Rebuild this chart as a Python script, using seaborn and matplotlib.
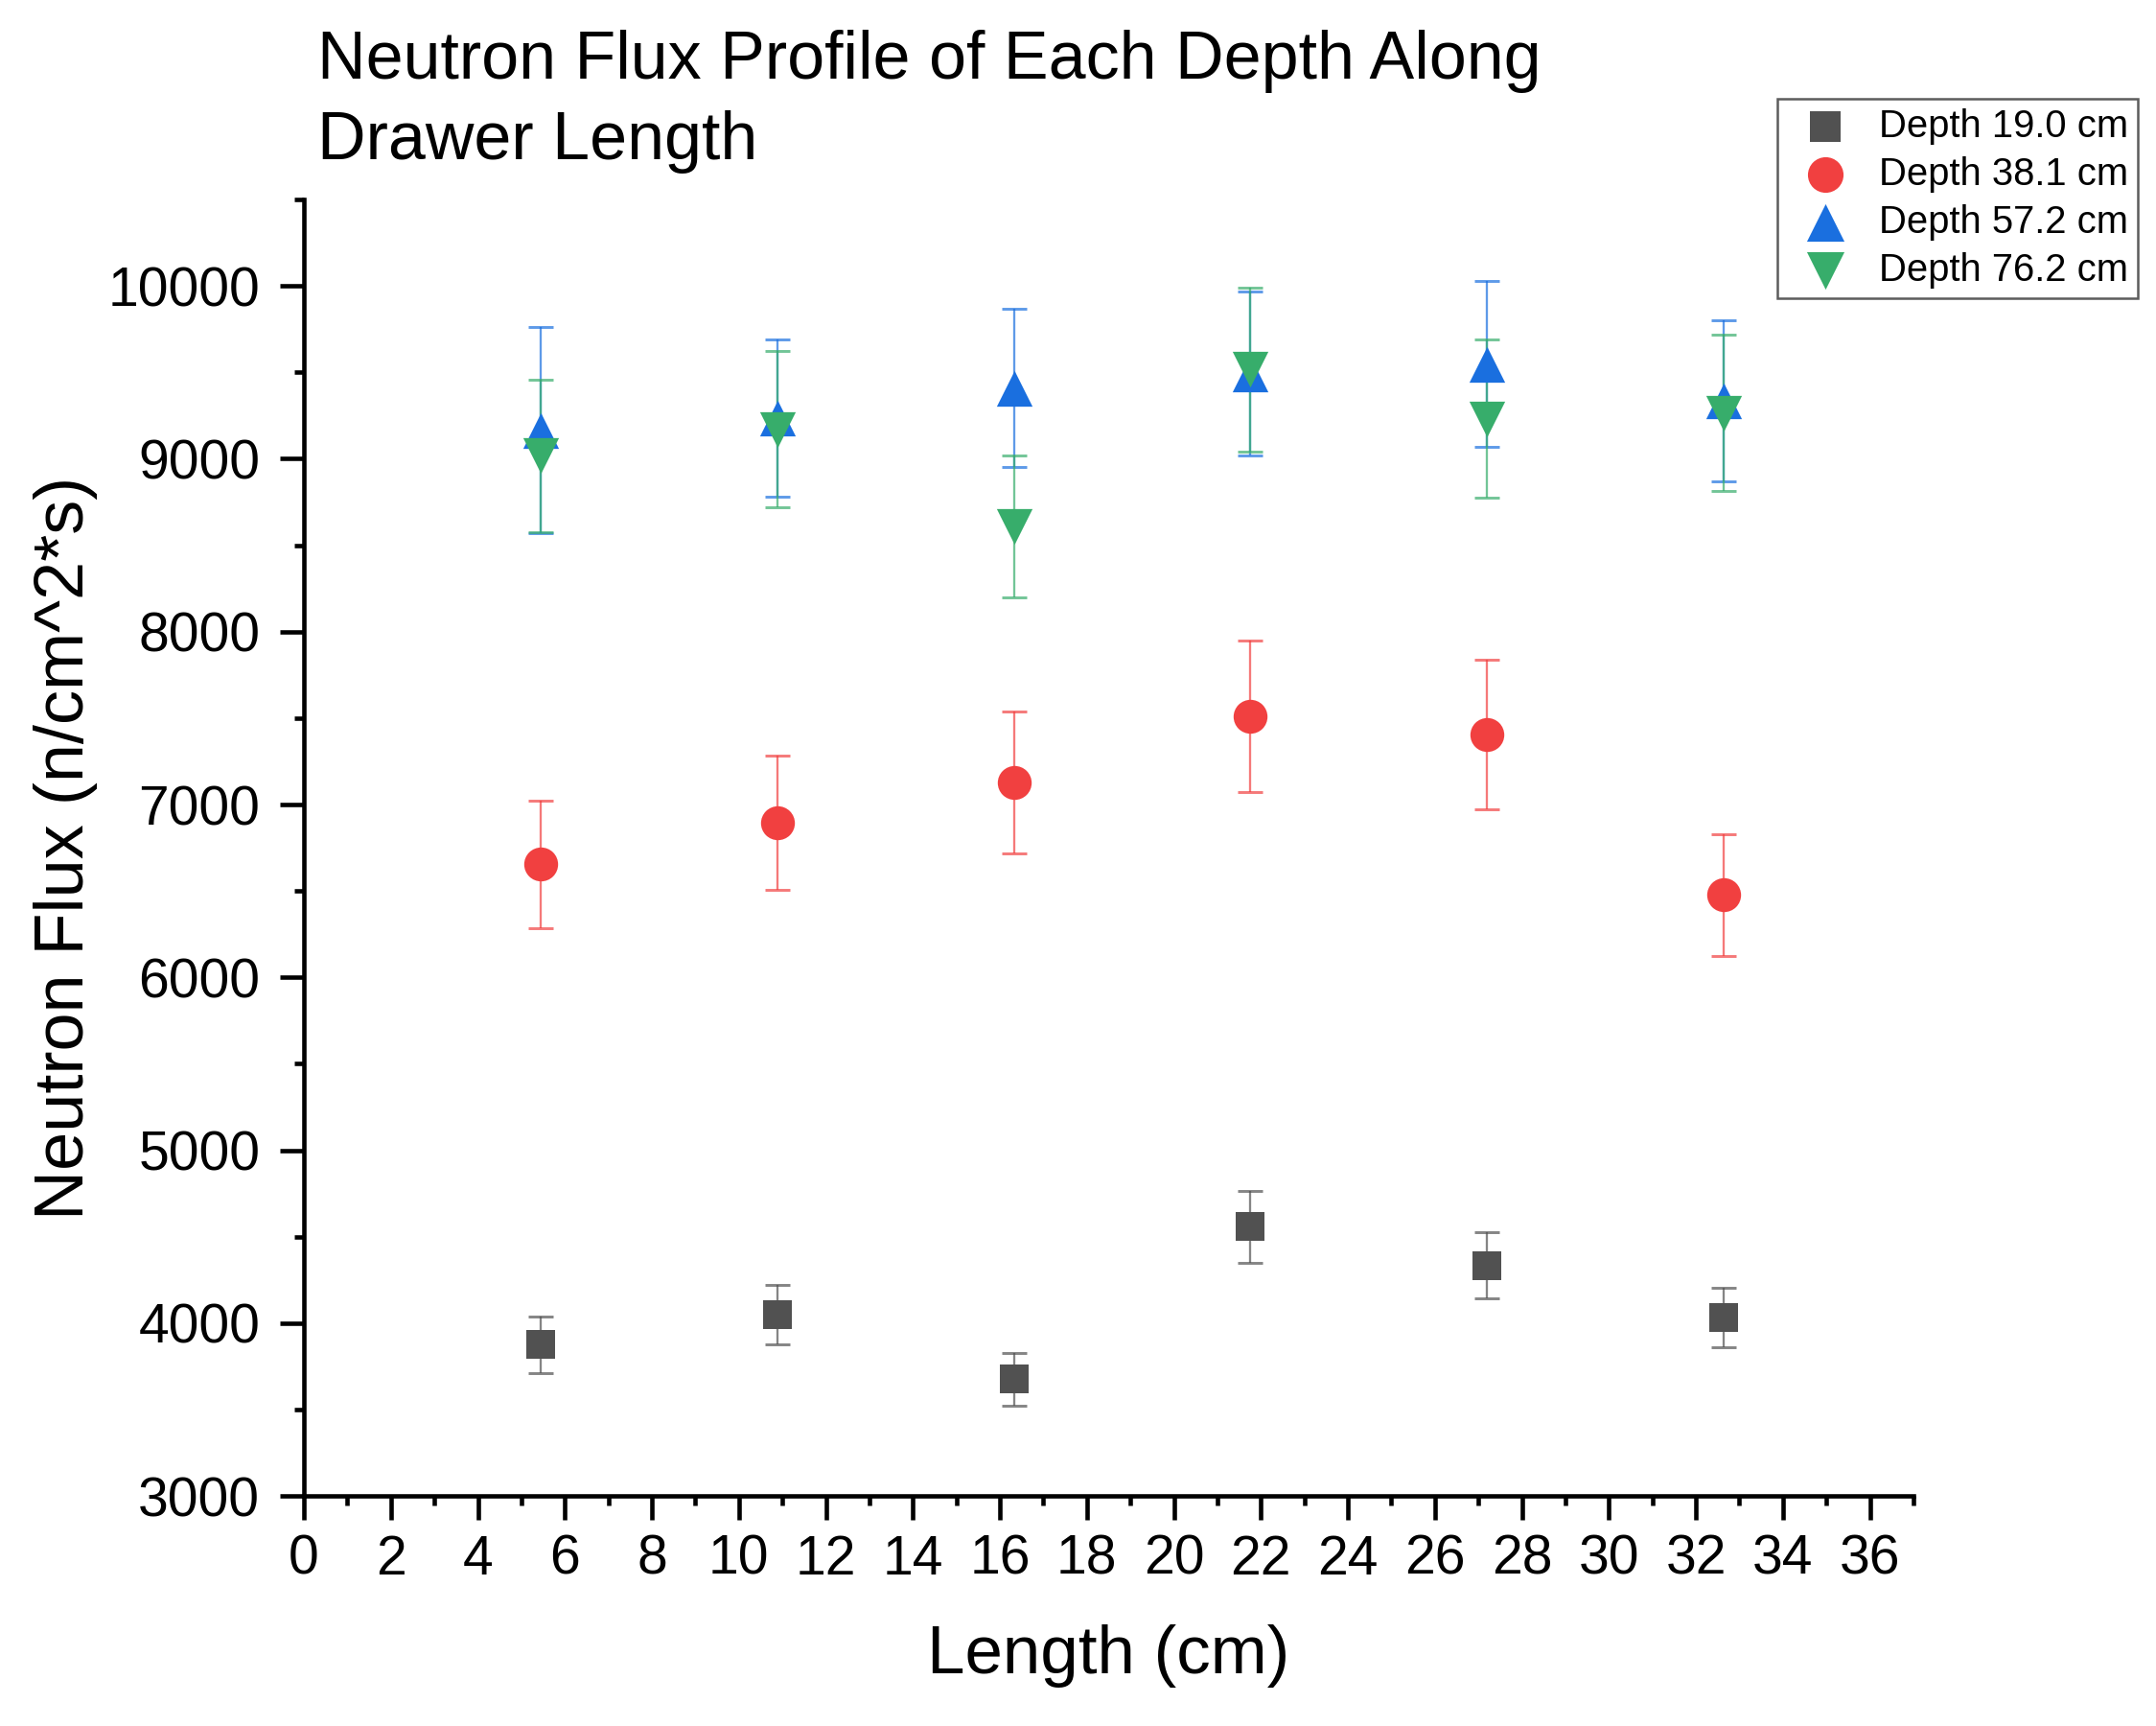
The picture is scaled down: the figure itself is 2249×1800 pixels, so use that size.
import matplotlib
matplotlib.use("Agg")
import matplotlib.pyplot as plt
from matplotlib.ticker import MultipleLocator
import seaborn as sns
import pandas as pd

# positions along the drawer (cm)
length = [5.44, 10.88, 16.32, 21.76, 27.2, 32.64]

depths = ["Depth 19.0 cm", "Depth 38.1 cm", "Depth 57.2 cm", "Depth 76.2 cm"]

flux_19 = [3876, 4050, 3676, 4559, 4333, 4031]
err_19 = [164, 172, 153, 208, 191, 172]

flux_38 = [6655, 6897, 7128, 7510, 7404, 6476]
err_38 = [368, 388, 410, 440, 434, 352]

flux_57 = [9165, 9233, 9410, 9492, 9548, 9335]
err_57 = [595, 455, 460, 475, 480, 465]

flux_76 = [9017, 9170, 8610, 9516, 9231, 9265]
err_76 = [440, 452, 412, 475, 457, 453]

colors = ["#515151", "#F14040", "#1A6FDF", "#37AD6B"]
markers = ["s", "o", "^", "v"]
sizes = [52, 72, 80, 80]

# build one long table
frames = []
for name, vals, errs in zip(depths, [flux_19, flux_38, flux_57, flux_76],
                            [err_19, err_38, err_57, err_76]):
    frames.append(pd.DataFrame({"Length": length, "Flux": vals, "Err": errs, "Depth": name}))
df = pd.concat(frames, ignore_index=True)

sns.set_style("ticks")
plt.rcParams["font.family"] = ["Liberation Sans", "DejaVu Sans"]
plt.rcParams.update({"text.color": "black", "axes.labelcolor": "black",
                     "xtick.color": "black", "ytick.color": "black"})

fig = plt.figure(figsize=(2249 / 300, 1800 / 300), dpi=300)
ax = fig.add_axes([0.141, 0.1333, 0.7465, 0.7511])

# error bars first, markers on top
for name, col in zip(depths, colors):
    sub = df[df["Depth"] == name]
    ax.errorbar(sub["Length"], sub["Flux"], yerr=sub["Err"], fmt="none",
                ecolor=col, elinewidth=0.55, capsize=3.2, capthick=0.7,
                alpha=0.7, zorder=2)

for name, col, mk, sz in zip(depths, colors, markers, sizes):
    sub = df[df["Depth"] == name]
    sns.scatterplot(data=sub, x="Length", y="Flux", color=col, marker=mk, s=sz,
                    linewidth=0, label=name, ax=ax, zorder=3, legend=False)

ax.set_xlim(0, 37)
ax.set_ylim(3000, 10500)
ax.xaxis.set_major_locator(MultipleLocator(2))
ax.xaxis.set_minor_locator(MultipleLocator(1))
ax.yaxis.set_major_locator(MultipleLocator(1000))
ax.yaxis.set_minor_locator(MultipleLocator(500))

sns.despine(ax=ax)
for s in ["left", "bottom"]:
    ax.spines[s].set_linewidth(1.1)
    ax.spines[s].set_color("black")

ax.tick_params(which="major", direction="out", length=6, width=1.1, labelsize=13.7)
ax.tick_params(which="minor", direction="out", length=2.5, width=1.1)
ax.tick_params(axis="x", which="major", pad=3.5)
ax.tick_params(axis="y", which="major", pad=5)

ax.set_xlabel("Length (cm)", fontsize=17)
ax.set_ylabel("Neutron Flux (n/cm^2*s)", fontsize=17.3)
ax.xaxis.set_label_coords(0.5, -0.099)
ax.yaxis.set_label_coords(-0.128, 0.5)

fig.text(0.147, 0.983, "Neutron Flux Profile of Each Depth Along\nDrawer Length",
         fontsize=16.8, ha="left", va="top", linespacing=1.37)

handles, labels = ax.get_legend_handles_labels()
leg = ax.legend(handles, labels, loc="upper right", bbox_to_anchor=(0.9915, 0.943),
                bbox_transform=fig.transFigure, fontsize=9.6, frameon=True,
                fancybox=False, borderpad=0.25, labelspacing=0.3,
                handlelength=2.0, handletextpad=0.4, borderaxespad=0, markerscale=1.05)
leg.get_frame().set_edgecolor("#333333")
leg.get_frame().set_linewidth(0.6)

fig.savefig("out.png", dpi=300, facecolor="white")
